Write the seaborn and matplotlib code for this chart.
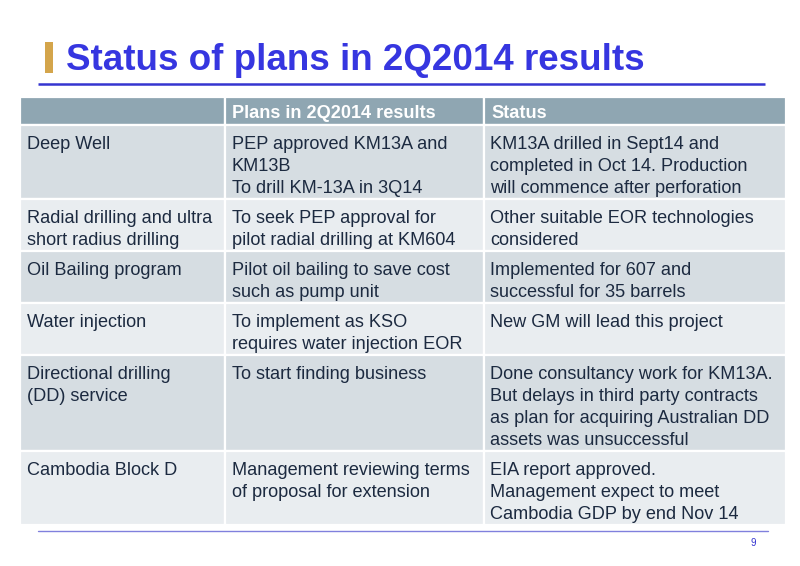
import matplotlib
matplotlib.use("Agg")
import matplotlib.pyplot as plt
from matplotlib.patches import Rectangle
import seaborn as sns

# ---- data ----
title = "Status of plans in 2Q2014 results"
headers = ["", "Plans in 2Q2014 results", "Status"]
items = [
    "Deep Well",
    "Radial drilling and ultra\nshort radius drilling",
    "Oil Bailing program",
    "Water injection",
    "Directional drilling\n(DD) service",
    "Cambodia Block D",
]
plans = [
    "PEP approved KM13A and\nKM13B\nTo drill KM-13A in 3Q14",
    "To seek PEP approval for\npilot radial drilling at KM604",
    "Pilot oil bailing to save cost\nsuch as pump unit",
    "To implement as KSO\nrequires water injection EOR",
    "To start finding business",
    "Management reviewing terms\nof proposal for extension",
]
status = [
    "KM13A drilled in Sept14 and\ncompleted in Oct 14. Production\nwill commence after perforation",
    "Other suitable EOR technologies\nconsidered",
    "Implemented for 607 and\nsuccessful for 35 barrels",
    "New GM will lead this project",
    "Done consultancy work for KM13A.\nBut delays in third party contracts\nas plan for acquiring Australian DD\nassets was unsuccessful",
    "EIA report approved.\nManagement expect to meet\nCambodia GDP by end Nov 14",
]
page_number = "9"

# ---- style / layout ----
sns.set_theme(style="white")
plt.rcParams["font.family"] = ["Liberation Sans", "DejaVu Sans"]

W, H = 800, 566
fig = plt.figure(figsize=(8, 5.66), dpi=100)
ax = fig.add_axes([0, 0, 1, 1])
ax.set_xlim(0, W)
ax.set_ylim(H, 0)
ax.axis("off")

col_x = [20, 224.5, 483.5, 786]
header_top, header_bot = 97, 125
line_h = 22
header_col = "#8fa6b2"
row_cols = ["#d6dde2", "#e9edf0"]
text_col = "#1c2a40"
fs = 13.1

# title
ax.add_patch(Rectangle((45, 42), 8, 31, color="#d4a54b", lw=0))
ax.text(66, 70, title, fontsize=26.5, fontweight="bold", color="#3636e0",
        va="baseline", ha="left")
ax.plot([38, 765], [83.5, 83.5], color="#3535d0", lw=1.8, solid_capstyle="butt")

# header
for c in range(3):
    ax.add_patch(Rectangle((col_x[c], header_top), col_x[c + 1] - col_x[c],
                           header_bot - header_top, facecolor=header_col,
                           edgecolor="white", lw=1.6))
    if headers[c]:
        ax.text(col_x[c] + 7.5, header_bot - 7.5, headers[c], fontsize=fs,
                fontweight="bold", color="white", va="baseline")

# body
y = header_bot
for r in range(len(items)):
    cells = [items[r], plans[r], status[r]]
    nlines = max(2, max(len(s.split("\n")) for s in cells))
    h = nlines * line_h + 8
    for c in range(3):
        ax.add_patch(Rectangle((col_x[c], y), col_x[c + 1] - col_x[c], h,
                               facecolor=row_cols[r % 2], edgecolor="white", lw=1.6))
        for i, line in enumerate(cells[c].split("\n")):
            ax.text(col_x[c] + 7, y + 24 + i * line_h, line, fontsize=fs,
                    color=text_col, va="baseline", ha="left")
    y += h

# footer
ax.plot([38, 768], [531, 531], color="#8080dd", lw=1.0)
ax.text(756, 546, page_number, fontsize=7, color="#3535d0", ha="right", va="baseline")

fig.savefig("out.png", dpi=100)
